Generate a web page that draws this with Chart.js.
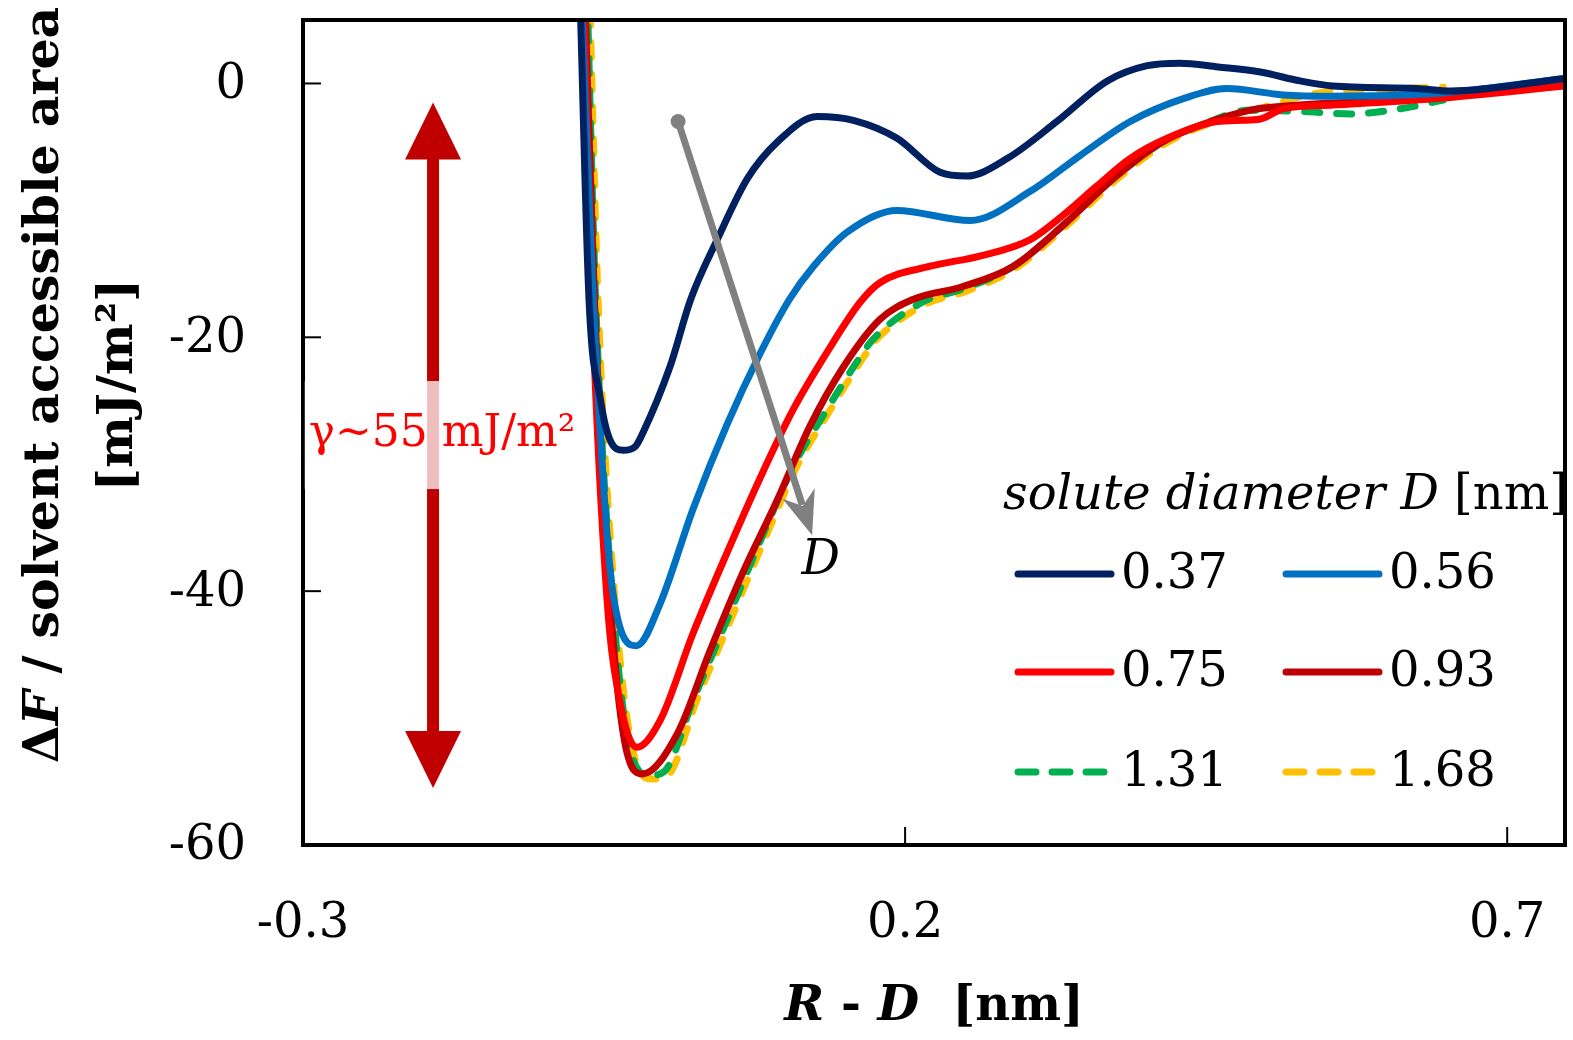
<!DOCTYPE html>
<html>
<head>
<meta charset="utf-8">
<script src="https://cdn.jsdelivr.net/npm/chart.js@4.4.1/dist/chart.umd.min.js"></script>
<style>
  html, body { margin: 0; padding: 0; background: #ffffff; }
  #wrap { width: 1573px; height: 1040px; position: relative; }
</style>
</head>
<body>
<div id="wrap"><canvas id="c" width="1573" height="1040"></canvas></div>
<script>
// Axis ticks
const xTicks = [-0.3, 0.2, 0.7];
const yTicks = [-60, -40, -20, 0];

// Solute diameters D [nm] and line colours
const diameters = ['0.37', '0.56', '0.75', '0.93', '1.31', '1.68'];
const colors = ['#002060', '#0070C0', '#FF0000', '#C00000', '#00B050', '#FFC000'];

// Free energy profiles: R - D [nm] and ΔF / SASA [mJ/m²]
const x037 = [-0.070, -0.0625, -0.053, -0.045, -0.034, -0.024, -0.0176, 0.0048, 0.022, 0.044, 0.069, 0.094, 0.127, 0.157, 0.193, 0.229, 0.251, 0.285, 0.326, 0.368, 0.401, 0.428, 0.460, 0.495, 0.528, 0.555, 0.625, 0.653, 0.748];
const y037 = [7.0, -17.0, -24.9, -28.1, -28.9, -28.6, -27.5, -22.3, -17.0, -12.3, -7.5, -4.6, -2.6, -2.9, -4.3, -7.0, -7.3, -5.9, -3.0, 0.2, 1.4, 1.6, 1.3, 0.9, 0.2, -0.2, -0.4, -0.6, 0.4];

const x056 = [-0.069, -0.059, -0.043, -0.023, -0.0035, 0.024, 0.052, 0.080, 0.104, 0.124, 0.152, 0.193, 0.254, 0.304, 0.345, 0.387, 0.431, 0.467, 0.514, 0.555, 0.639, 0.748];
const y056 = [7.0, -17.0, -39.9, -44.3, -41.0, -33.5, -26.9, -21.2, -17.0, -14.4, -11.7, -10.0, -10.8, -8.5, -5.7, -3.0, -1.2, -0.4, -0.9, -1.0, -0.8, 0.4];

const x075 = [-0.067, -0.060, -0.0475, -0.037, -0.023, -0.0035, 0.024, 0.052, 0.080, 0.107, 0.135, 0.163, 0.179, 0.221, 0.262, 0.304, 0.331, 0.359, 0.387, 0.418, 0.459, 0.480, 0.495, 0.514, 0.555, 0.639, 0.748];
const y075 = [7.0, -17.0, -40.7, -48.6, -52.3, -50.2, -43.3, -37.0, -31.0, -25.7, -21.2, -17.2, -15.7, -14.4, -13.6, -12.3, -10.4, -8.1, -5.9, -4.3, -3.0, -2.9, -2.8, -2.0, -1.7, -1.2, -0.2];

const x093 = [-0.066, -0.058, -0.045, -0.033, -0.018, 0.011, 0.038, 0.065, 0.094, 0.121, 0.149, 0.179, 0.207, 0.248, 0.290, 0.331, 0.373, 0.414, 0.445, 0.487, 0.528, 0.584, 0.639, 0.748];
const y093 = [7.0, -17.0, -40.7, -51.8, -54.4, -51.2, -44.7, -38.6, -32.8, -27.0, -22.3, -18.6, -17.0, -16.0, -14.4, -11.2, -7.5, -4.6, -3.3, -2.1, -1.7, -1.4, -0.9, 0.2];

const x131 = [-0.064, -0.057, -0.043, -0.028, -0.012, 0.000, 0.024, 0.052, 0.080, 0.107, 0.135, 0.163, 0.173, 0.215, 0.248, 0.290, 0.331, 0.373, 0.414, 0.445, 0.487, 0.528, 0.570, 0.611, 0.647];
const y131 = [7.0, -17.0, -40.7, -52.6, -54.5, -54.2, -48.6, -42.3, -36.0, -30.2, -25.7, -21.5, -20.2, -17.2, -16.2, -14.4, -11.2, -7.5, -4.6, -3.3, -2.1, -2.2, -2.4, -2.0, -1.3];

const x168 = [-0.062, -0.055, -0.041, -0.026, -0.010, 0.003, 0.027, 0.055, 0.083, 0.110, 0.138, 0.166, 0.176, 0.217, 0.250, 0.291, 0.332, 0.374, 0.415, 0.446, 0.487, 0.514, 0.555, 0.611, 0.647];
const y168 = [7.0, -17.0, -40.7, -52.6, -54.8, -54.5, -48.6, -42.3, -36.0, -30.2, -25.7, -21.5, -20.2, -17.4, -16.4, -14.6, -11.4, -7.7, -4.8, -3.4, -2.2, -1.4, -0.6, -0.4, -0.3];

const xs = [x037, x056, x075, x093, x131, x168];
const ys = [y037, y056, y075, y093, y131, y168];
const dashed = [false, false, false, false, true, true];

const SERIF = '"DejaVu Serif", "Liberation Serif", serif';

const datasets = diameters.map((d, i) => ({
  label: d,
  data: xs[i].map((v, k) => ({ x: v, y: ys[i][k] })),
  borderColor: colors[i],
  backgroundColor: colors[i],
  borderWidth: 7,
  borderCapStyle: 'round',
  borderJoinStyle: 'round',
  borderDash: dashed[i] ? [15, 17] : [],
  borderDashOffset: i === 5 ? 16 : 0,
  pointRadius: 0,
  cubicInterpolationMode: 'monotone',
  fill: false
}));

// Draw a run of text pieces with different font styles
function drawRuns(ctx, runs, x, y, align) {
  let total = 0;
  runs.forEach(r => { ctx.font = r.font; total += ctx.measureText(r.text).width; });
  let cx = align === 'center' ? x - total / 2 : (align === 'right' ? x - total : x);
  runs.forEach(r => {
    ctx.font = r.font;
    ctx.textAlign = 'left';
    ctx.fillText(r.text, cx, y);
    cx += ctx.measureText(r.text).width;
  });
  return total;
}

const decorations = {
  id: 'decorations',
  afterDatasetsDraw(chart) {
    const { ctx, chartArea: a, scales: { x, y } } = chart;
    ctx.save();

    // Frame
    ctx.strokeStyle = '#000';
    ctx.lineWidth = 4;
    ctx.strokeRect(a.left, a.top, a.right - a.left, a.bottom - a.top);

    // Inner tick marks and tick labels
    ctx.lineWidth = 2;
    ctx.fillStyle = '#000';
    ctx.font = '48px ' + SERIF;
    xTicks.forEach(t => {
      const px = x.getPixelForValue(t);
      ctx.beginPath(); ctx.moveTo(px, a.bottom); ctx.lineTo(px, a.bottom - 18); ctx.stroke();
      ctx.textAlign = 'center';
      ctx.textBaseline = 'middle';
      ctx.fillText(String(t), px, a.bottom + 80);
    });
    yTicks.forEach(t => {
      const py = y.getPixelForValue(t);
      ctx.beginPath(); ctx.moveTo(a.left, py); ctx.lineTo(a.left + 18, py); ctx.stroke();
      ctx.textAlign = 'right';
      ctx.textBaseline = 'middle';
      ctx.fillText(String(t), a.left - 57, py + 2);
    });

    // Double-headed arrow spanning the well depth
    const ax = x.getPixelForValue(-0.192);
    const aTop = y.getPixelForValue(-1.5);
    const aBot = y.getPixelForValue(-55.5);
    const headL = 57, headW = 56, shaftW = 12;
    ctx.fillStyle = '#C00000';
    ctx.fillRect(ax - shaftW / 2, aTop + headL - 1, shaftW, (aBot - aTop) - 2 * headL + 2);
    ctx.beginPath();
    ctx.moveTo(ax, aTop); ctx.lineTo(ax + headW / 2, aTop + headL); ctx.lineTo(ax - headW / 2, aTop + headL); ctx.closePath(); ctx.fill();
    ctx.beginPath();
    ctx.moveTo(ax, aBot); ctx.lineTo(ax + headW / 2, aBot - headL); ctx.lineTo(ax - headW / 2, aBot - headL); ctx.closePath(); ctx.fill();

    // γ label with translucent backing
    const gy = y.getPixelForValue(-27.7);
    const gx = ax + 9;
    ctx.font = '44px ' + SERIF;
    const gText = 'γ~55 mJ/m²';
    const gw = ctx.measureText(gText).width;
    ctx.fillStyle = 'rgba(255,255,255,0.75)';
    ctx.fillRect(gx - gw / 2 - 4, gy - 54, gw + 8, 108);
    ctx.fillStyle = '#FF0000';
    ctx.textAlign = 'center';
    ctx.textBaseline = 'middle';
    ctx.fillText(gText, gx, gy);

    // Grey trend arrow (increasing D)
    const sx = x.getPixelForValue(0.0115), sy = y.getPixelForValue(-3.0);
    const ex = x.getPixelForValue(0.1228), ey = y.getPixelForValue(-35.6);
    const ang = Math.atan2(ey - sy, ex - sx);
    const hl = 44;
    ctx.strokeStyle = '#808080';
    ctx.fillStyle = '#808080';
    ctx.lineWidth = 7;
    ctx.lineCap = 'butt';
    ctx.beginPath();
    ctx.moveTo(sx, sy);
    ctx.lineTo(ex - Math.cos(ang) * (hl - 12), ey - Math.sin(ang) * (hl - 12));
    ctx.stroke();
    ctx.beginPath(); ctx.arc(sx, sy, 7.5, 0, Math.PI * 2); ctx.fill();
    const pa = Math.PI / 2;
    const bx = ex - Math.cos(ang) * hl, by = ey - Math.sin(ang) * hl;
    const nx = ex - Math.cos(ang) * (hl * 0.7), ny = ey - Math.sin(ang) * (hl * 0.7);
    ctx.beginPath();
    ctx.moveTo(ex, ey);
    ctx.lineTo(bx + Math.cos(ang + pa) * 17, by + Math.sin(ang + pa) * 17);
    ctx.lineTo(nx, ny);
    ctx.lineTo(bx + Math.cos(ang - pa) * 17, by + Math.sin(ang - pa) * 17);
    ctx.closePath();
    ctx.fill();

    // D label
    ctx.fillStyle = '#000';
    ctx.font = 'italic 48px ' + SERIF;
    ctx.textAlign = 'center';
    ctx.textBaseline = 'middle';
    ctx.fillText('D', x.getPixelForValue(0.13), y.getPixelForValue(-37.7));

    // Legend
    ctx.textBaseline = 'middle';
    ctx.fillStyle = '#000';
    drawRuns(ctx, [
      { text: 'solute diameter ', font: 'italic 48px ' + SERIF },
      { text: 'D', font: 'italic 48px ' + SERIF },
      { text: ' [nm]', font: '48px ' + SERIF }
    ], 1568, 497, 'right');
    const colX = [1015, 1283];
    const rowY = [574, 672, 772];
    chart.data.datasets.forEach((ds, i) => {
      const cx = colX[i % 2], cy = rowY[Math.floor(i / 2)];
      ctx.strokeStyle = ds.borderColor;
      ctx.lineWidth = 7;
      ctx.lineCap = 'round';
      ctx.setLineDash(ds.borderDash.length ? [18, 16] : []);
      ctx.beginPath(); ctx.moveTo(cx + 3, cy); ctx.lineTo(cx + 96, cy); ctx.stroke();
      ctx.setLineDash([]);
      ctx.fillStyle = '#000';
      ctx.font = '48px ' + SERIF;
      ctx.textAlign = 'left';
      ctx.fillText(ds.label, cx + 106, cy + 2);
    });

    // Axis titles
    ctx.fillStyle = '#000';
    ctx.textBaseline = 'alphabetic';
    drawRuns(ctx, [
      { text: 'R', font: 'italic bold 48px ' + SERIF },
      { text: ' - ', font: 'bold 48px ' + SERIF },
      { text: 'D', font: 'italic bold 48px ' + SERIF },
      { text: '  [nm]', font: 'bold 48px ' + SERIF }
    ], (a.left + a.right) / 2, 1020, 'center');

    ctx.save();
    ctx.translate(58, 385);
    ctx.rotate(-Math.PI / 2);
    drawRuns(ctx, [
      { text: 'Δ', font: 'bold 49px ' + SERIF },
      { text: 'F', font: 'italic bold 49px ' + SERIF },
      { text: ' / solvent accessible area', font: 'bold 49px ' + SERIF }
    ], 0, 0, 'center');
    ctx.restore();
    ctx.save();
    ctx.translate(132, 385);
    ctx.rotate(-Math.PI / 2);
    drawRuns(ctx, [{ text: '[mJ/m²]', font: 'bold 49px ' + SERIF }], 0, 0, 'center');
    ctx.restore();

    ctx.restore();
  }
};

new Chart(document.getElementById('c'), {
  type: 'line',
  data: { datasets },
  options: {
    responsive: false,
    animation: false,
    devicePixelRatio: 1,
    layout: { padding: { top: 20, right: 8, left: 0, bottom: 0 } },
    plugins: { legend: { display: false }, tooltip: { enabled: false } },
    scales: {
      x: {
        type: 'linear',
        min: -0.3,
        max: 0.748,
        afterBuildTicks: s => { s.ticks = xTicks.map(v => ({ value: v })); },
        afterFit: s => { s.height = 195; s.paddingLeft = 0; s.paddingRight = 0; },
        grid: { display: false, drawTicks: false },
        border: { display: false },
        ticks: { display: false }
      },
      y: {
        type: 'linear',
        min: -60,
        max: 5,
        afterBuildTicks: s => { s.ticks = yTicks.map(v => ({ value: v })); },
        afterFit: s => { s.width = 303; s.paddingTop = 0; s.paddingBottom = 0; },
        grid: { display: false, drawTicks: false },
        border: { display: false },
        ticks: { display: false }
      }
    }
  },
  plugins: [decorations]
});
</script>
</body>
</html>
